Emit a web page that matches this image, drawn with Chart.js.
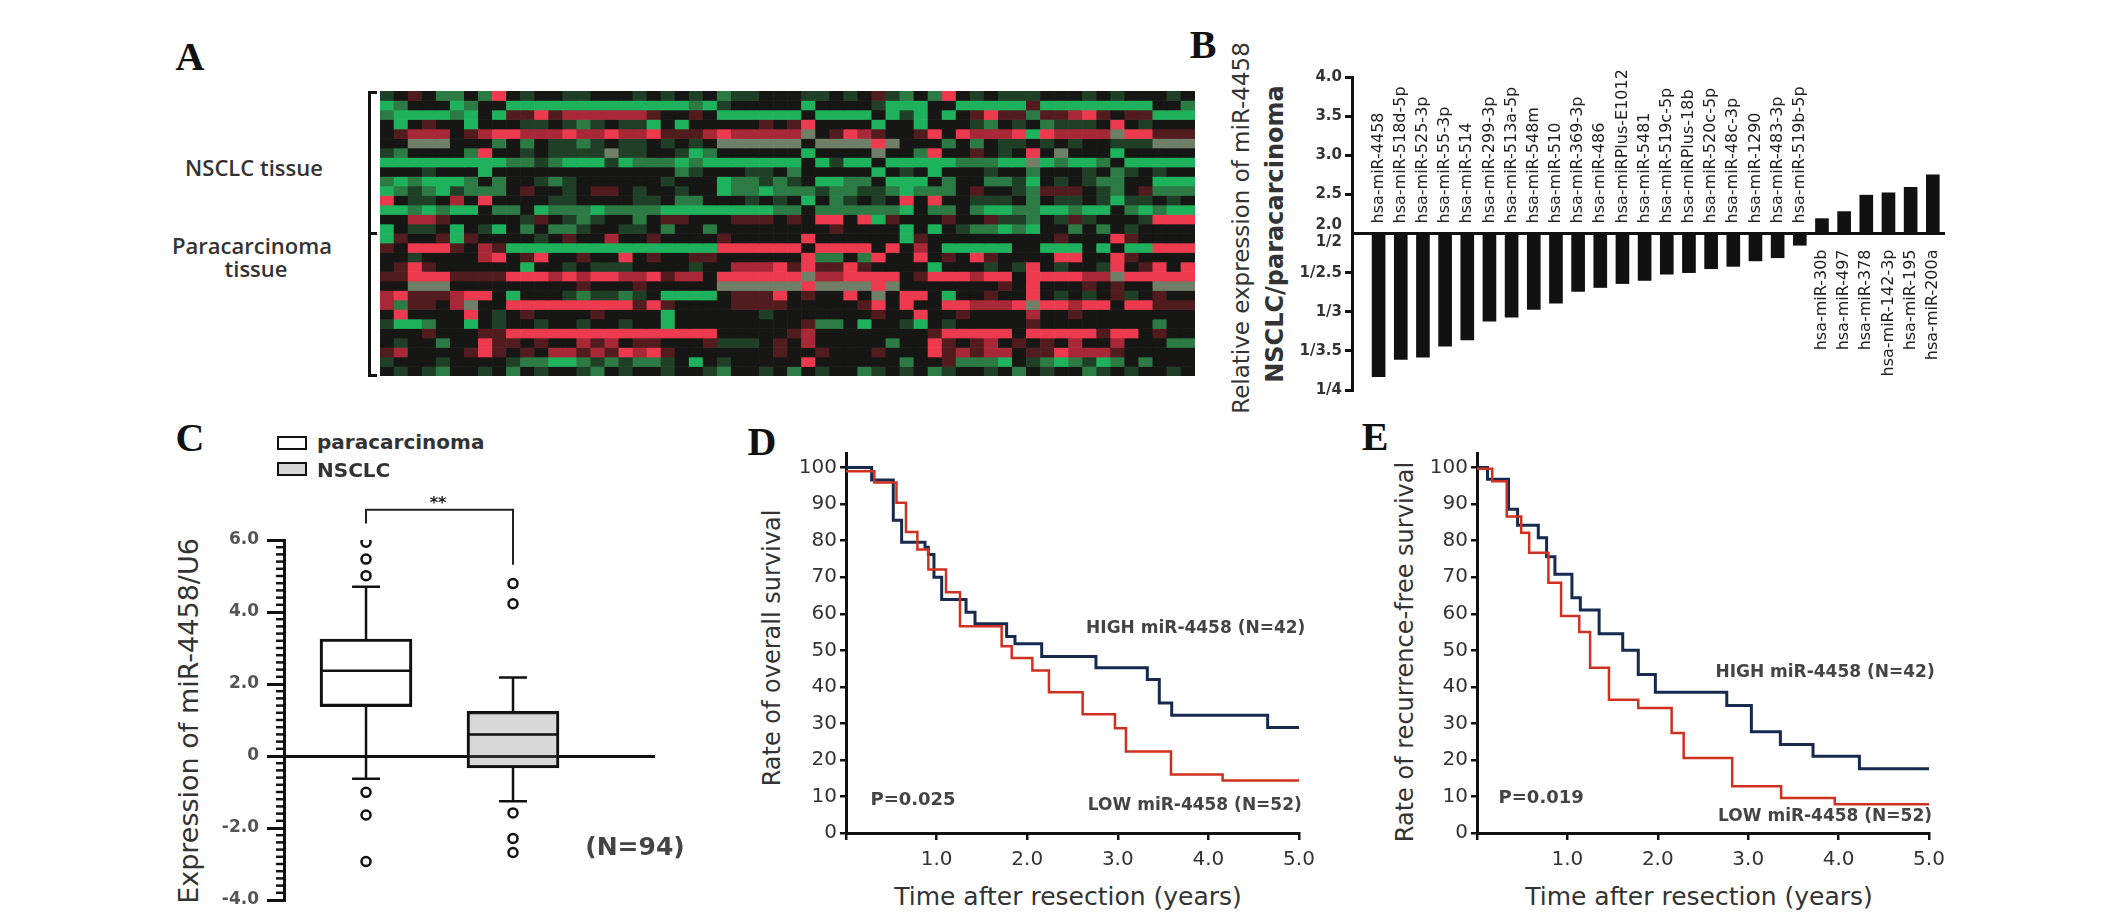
<!DOCTYPE html>
<html>
<head>
<meta charset="utf-8">
<script src="https://cdn.jsdelivr.net/npm/chart.js@4.4.1/dist/chart.umd.min.js"></script>
<style>
  html, body { margin: 0; padding: 0; background: #fff; }
  body { position: relative; width: 2126px; height: 921px; overflow: hidden; color: #333; }
  .t { position: absolute; white-space: nowrap; }
  .sw { position: absolute; box-sizing: border-box; border: 2px solid #111; }
  .br { position: absolute; background: #111; }
</style>
</head>
<body>
<script>
// heatmap rows (top to bottom), one letter per sample column
// G bright green, g green, d dark green, k black, m dark red, r red, R bright red, w grey
var heatRows = [
  'dkmkggkgRkdkkddkkkd' + 'kdkdkgddkkkddkdkmdg' + 'kgRkdkdddkkkdkdkkkd' + 'k',
  'GgkkkGgkkGGGGGGGGGG' + 'GGGgGdkkkkkGkkkkdGG' + 'GkkGGGGGmGGGGGGGGkk' + 'g',
  'gGGGGgGkGmmRmrrrrrr' + 'mkkmkGGGGGGkGGGGkGd' + 'GkGkmRmmgmmrRmkmmGG' + 'G',
  'kGkmkkGkkkddkdgdkdd' + 'GkGkkkkkmkmRkkkkGkk' + 'GkkkdgkdkgdddkRkdkk' + 'k',
  'kmrrrkmrRRrrrRrrRrr' + 'RmmmrRrrrrrwkmRrmkk' + 'mRkRrrrRGRrrrrwRRmm' + 'm',
  'kkwwwkkkgkgkddgdkdd' + 'kdkdkwwwwwwkwwwwRwk' + 'kkgkgkddkdkdkkdddww' + 'w',
  'dgkkkkgRkkdkddddwdd' + 'kkdGgkkkkkkGkkkkwkk' + 'gRkkmkdkRkwkkkGkkkk' + 'k',
  'GGGGGGGGGggdgGGGdGg' + 'ggGgGGGGGGGkGdGGkGG' + 'GGGgggGGwGgGGgkGGGG' + 'G',
  'kkkdkkkGkkkkkkkkkkk' + 'kkgdkkkddkgkkkkkGkd' + 'kGkkkdkkgkkkdkgdkdk' + 'k',
  'gGgGGGgkgkkdgdkkkkk' + 'kdkkkGggdgdkGGggkGG' + 'GkgkkggdGkdkdggkkGG' + 'G',
  'GgdgGdgggkmkkdkmmkd' + 'kkdkkGggGgggdggddgG' + 'gggkmkkdgmmmkdgkmgg' + 'g',
  'RkddkrkRkkkkddkkkkd' + 'dkggkkkdkdkGkgdkdkR' + 'kRkkdddkgkddkdGddkd' + 'k',
  'GGgGgGGkggkGgggGggg' + 'gGGGGGGGGggkggggggG' + 'kggkgGGggGGgGGkgGgG' + 'G',
  'kkrrmkkkkkdmkdgdkkg' + 'kmmkkkmmmkmkRRkRGmk' + 'kkmkkmddgkdmdkkkdRR' + 'R',
  'GkddkGkdGkgkggdkkdd' + 'kgkkgkkkkkkkkmkkkkG' + 'kGkdggGgGkkgkgkdkkk' + 'k',
  'GmkkmGmkkkkdkmkkrkk' + 'mkkkkmkkkkkRkkkkkkG' + 'mkkkkkkkkkmkkkRmkkk' + 'k',
  'mkRRRmkrmGGGGGGGGGG' + 'GGGGGRRRRRRkRRRRkRk' + 'rkGGGGGkkGGGkGkGGRR' + 'R',
  'kkdkkkkrRkmRkkmkkRk' + 'mkkmmkkkkkkRggkgRkk' + 'RkmkRmkkkkRRkkRmkkk' + 'k',
  'kmRmkkkkkkGkkdkdddk' + 'kkkdkkrrrRmRmmRmkkk' + 'kGkkkdkdRkdkkdRkmRk' + 'R',
  'mmRRRmmmmRRRrRrRRrr' + 'RmrrkRRRRRRwrrRRRRk' + 'mRRRrRRkRRRRrrwRRRR' + 'R',
  'kkwwwkkkkkkkkkmkkkm' + 'kkkkkwwwwwwRwwwwRwk' + 'kkkkkkmkRkkkmkmkkww' + 'w',
  'rRmmmrRRkGkkkdgddgd' + 'kGGGGkmmmRkmkkRkwkR' + 'RkGkkmkkRkdkdkmdkmk' + 'k',
  'rgmmkrwkkRRRRRRRRRm' + 'RmkkkkmmmmkkkkkmRkR' + 'kkRRrrrRwRRrRRkRRmm' + 'm',
  'kRkkkkRkdkmkkkkmkkk' + 'kGkkkkkkdkkkkkkkmkk' + 'Rkkmkkkkrkkmkkkkkkk' + 'k',
  'dGGgkkGkdkkdkkdkkdk' + 'kGkkkkkkkkkmggkGkkd' + 'Gkdkkkkkmkkkkkkkkgk' + 'k',
  'kkkmkkkmmRRRRRRRRRR' + 'RRRRRkkkkkmrkkkkkkk' + 'kmRRRRRkRRRRRmRRkmk' + 'k',
  'kdkkgkkRmmkmkkrmrkm' + 'mkkkmdddkmkrkkkkkgk' + 'kRmkmrkmkmkrkkrkkkg' + 'g',
  'mrkkkkmRmkmkrrmrmRr' + 'Rmkkkkkkkmkkmkkkmkk' + 'kRmrmrrkmmRrrrmkkkk' + 'k',
  'dkkkdkkkkdggGGgdgdg' + 'gdkGkdkkkkkRkkkkkkg' + 'kkmgggGkdgGgdGgkgkk' + 'k',
  'kdkdgkkdkgkdkkdgkdk' + 'kdkkdgkkdkgkdkkgdkd' + 'kgdkkdkgkdkkgdkdkkd' + 'k'
];
var heatColors = {
  G: '#1fb25c', g: '#2c7a44', d: '#1f4026', k: '#161614',
  m: '#521c1f', r: '#a82838', R: '#ee3a4f', w: '#6f7f68'
};

// panel B: fold change NSCLC / paracarcinoma
var bDownNames = ['hsa-miR-4458', 'hsa-miR-518d-5p', 'hsa-miR-525-3p', 'hsa-miR-55-3p', 'hsa-miR-514',
  'hsa-miR-299-3p', 'hsa-miR-513a-5p', 'hsa-miR-548m', 'hsa-miR-510', 'hsa-miR-369-3p', 'hsa-miR-486',
  'hsa-miRPlus-E1012', 'hsa-miR-5481', 'hsa-miR-519c-5p', 'hsa-miRPlus-18b', 'hsa-miR-520c-5p',
  'hsa-miR-48c-3p', 'hsa-miR-1290', 'hsa-miR-483-3p', 'hsa-miR-519b-5p'];
var bDownFold = [3.83, 3.61, 3.58, 3.44, 3.36, 3.12, 3.07, 2.97, 2.89, 2.74, 2.69, 2.64,
  2.60, 2.52, 2.50, 2.45, 2.42, 2.35, 2.31, 2.15]; // shown as 1/x
var bUpNames = ['hsa-miR-30b', 'hsa-miR-497', 'hsa-miR-378', 'hsa-miR-142-3p', 'hsa-miR-195', 'hsa-miR-200a'];
var bUpFold = [2.19, 2.28, 2.49, 2.52, 2.59, 2.75];

// panel C: box plot stats
var cGroups = ['paracarcinoma', 'NSCLC'];
var cQ1 = [1.37, -0.33];
var cMedian = [2.37, 0.60];
var cQ3 = [3.25, 1.24];
var cLow = [-0.63, -1.26];
var cHigh = [4.70, 2.18];
var cOutliers = [[5.94, 5.47, 5.01, -1.01, -1.64, -2.93], [4.79, 4.23, -1.58, -2.29, -2.68]];

// panel D: overall survival
var dHighT = [0, 0.283, 0.522, 0.614, 0.872, 0.909, 0.971, 1.056, 1.325, 1.424, 1.773, 1.865, 2.160, 2.759, 3.326, 3.458, 3.595, 4.654, 5.0];
var dHighS = [100, 96.6, 85.6, 79.6, 78.2, 76.2, 70.0, 63.9, 60.4, 57.3, 53.8, 51.8, 48.3, 45.2, 42.0, 35.6, 32.2, 28.9, 28.9];
var dLowT = [0, 0.313, 0.557, 0.662, 0.788, 0.909, 1.104, 1.258, 1.718, 1.829, 2.057, 2.240, 2.612, 2.969, 3.090, 3.587, 4.157, 5.0];
var dLowS = [99, 95.9, 90.4, 82.4, 77.6, 72.1, 65.9, 56.6, 51.1, 47.9, 44.5, 38.5, 32.5, 28.7, 22.3, 16.0, 14.4, 14.4];

// panel E: recurrence-free survival
var eHighT = [0, 0.116, 0.349, 0.449, 0.678, 0.770, 0.862, 1.050, 1.143, 1.351, 1.612, 1.784, 1.973, 2.763, 3.035, 3.356, 3.717, 4.230, 5.0];
var eHighS = [100, 96.8, 88.6, 84.2, 80.8, 75.6, 70.8, 64.4, 61.0, 54.5, 50.0, 43.4, 38.5, 34.9, 27.7, 24.2, 21.0, 17.6, 17.6];
var eLowT = [0, 0.168, 0.329, 0.489, 0.577, 0.790, 0.930, 1.131, 1.251, 1.460, 1.784, 2.153, 2.286, 2.823, 3.364, 3.958, 5.0];
var eLowS = [99.7, 96.3, 86.6, 82.2, 76.7, 68.5, 59.4, 55.0, 45.2, 36.5, 34.2, 27.4, 20.5, 12.8, 9.6, 7.9, 7.9];

Chart.defaults.font.family = "'DejaVu Sans', sans-serif";
Chart.defaults.color = '#333';
Chart.defaults.animation = false;
Chart.defaults.events = [];
Chart.defaults.plugins.legend.display = false;
Chart.defaults.plugins.tooltip.enabled = false;

function box(left, top, width, height) {
  var div = document.createElement('div');
  div.style.cssText = 'position:absolute;left:' + left + 'px;top:' + top + 'px;width:' + width + 'px;height:' + height + 'px';
  var cv = document.createElement('canvas');
  div.appendChild(cv);
  document.body.appendChild(div);
  return cv;
}

function text(str, x, y, font, opts) {
  opts = opts || {};
  var el = document.createElement('div');
  el.className = 't';
  el.textContent = str;
  el.style.font = font;
  el.style.lineHeight = '1';
  el.style.left = x + 'px';
  el.style.top = y + 'px';
  if (opts.color) el.style.color = opts.color;
  var tx = opts.align === 'left' ? '0' : (opts.align === 'right' ? '-100%' : '-50%');
  el.style.transform = 'translate(' + tx + ',-50%)' + (opts.rotate ? ' rotate(-90deg)' : '');
  document.body.appendChild(el);
}

function rect(cls, x, y, w, h, bg) {
  var el = document.createElement('div');
  el.className = cls;
  el.style.left = x + 'px'; el.style.top = y + 'px';
  el.style.width = w + 'px'; el.style.height = h + 'px';
  if (bg) el.style.background = bg;
  document.body.appendChild(el);
}

function fixSize(px) {
  return function (scale) {
    if (scale.isHorizontal()) { scale.height = px; } else { scale.width = px; }
    scale.paddingLeft = 0; scale.paddingRight = 0; scale.paddingTop = 0; scale.paddingBottom = 0;
  };
}

function zeroOnly(ctx) { return ctx.tick && ctx.tick.value === 0 ? '#111' : 'rgba(0,0,0,0)'; }

// text placed in data coordinates
var notesPlugin = {
  id: 'notes',
  afterDatasetsDraw: function (chart, args, opts) {
    var ctx = chart.ctx;
    (opts.items || []).forEach(function (n) {
      ctx.save();
      ctx.font = n.font;
      ctx.fillStyle = n.color || '#333';
      ctx.textAlign = 'center';
      ctx.textBaseline = 'middle';
      ctx.fillText(n.text, chart.scales.x.getPixelForValue(n.x), chart.scales.y.getPixelForValue(n.y));
      ctx.restore();
    });
  }
};

// ================= A: heatmap =================
var heatCols = heatRows[0].split('').map(function (c, i) { return 'S' + (i + 1); });
new Chart(box(380, 91, 815, 285), {
  type: 'bar',
  data: {
    labels: heatCols,
    datasets: heatRows.map(function (row, r) {
      var cells = row.split('');
      return {
        data: cells.map(function () { return [r, r + 1]; }),
        backgroundColor: cells.map(function (c) { return heatColors[c]; }),
        borderWidth: 0,
        grouped: false,
        barPercentage: 1,
        categoryPercentage: 1
      };
    })
  },
  options: {
    responsive: true,
    maintainAspectRatio: false,
    layout: { autoPadding: false, padding: 0 },
    scales: {
      x: { display: false },
      y: { display: false, min: 0, max: heatRows.length, reverse: true }
    }
  }
});

// bracket and row group labels
rect('br', 368, 91, 3, 286);
rect('br', 368, 91, 9, 3);
rect('br', 368, 232, 9, 3);
rect('br', 368, 374, 9, 3);
var sideFont = '600 22px "Open Sans"';
text('NSCLC tissue', 254, 167, sideFont);
text('Paracarcinoma', 252, 245, sideFont);
text('tissue', 256, 268, sideFont);

// ================= B: fold change bars =================
var bNames = bDownNames.concat(bUpNames);
var bPoints = bDownFold.map(function (d, i) { return { x: i, y: -(d - 2) }; })
  .concat(bUpFold.map(function (f, i) { return { x: bDownNames.length + i, y: f - 2 }; }));

var barNamesPlugin = {
  id: 'barNames',
  afterDatasetsDraw: function (chart, args, opts) {
    var ctx = chart.ctx, xs = chart.scales.x, ys = chart.scales.y;
    var y0 = ys.getPixelForValue(0);
    var pts = chart.data.datasets[0].data;
    ctx.save();
    ctx.font = opts.font;
    ctx.fillStyle = opts.color;
    ctx.textBaseline = 'middle';
    pts.forEach(function (p, i) {
      var x = xs.getPixelForValue(p.x);
      ctx.save();
      if (p.y < 0) {
        ctx.translate(x, y0 - opts.gapAbove);
        ctx.textAlign = 'left';
      } else {
        ctx.translate(x, y0 + opts.gapBelow);
        ctx.textAlign = 'right';
      }
      ctx.rotate(-Math.PI / 2);
      ctx.fillText(opts.names[i], 0, 0);
      ctx.restore();
    });
    ctx.restore();
  }
};

new Chart(box(1290, 60, 670, 345), {
  type: 'bar',
  data: {
    datasets: [{ data: bPoints, backgroundColor: '#111', borderWidth: 0, barThickness: 13 }]
  },
  options: {
    responsive: true,
    maintainAspectRatio: false,
    layout: { autoPadding: false, padding: { left: 0, top: 17, right: 15, bottom: 15 } },
    scales: {
      x: { type: 'linear', display: false, offset: false, min: -1.2, max: 25.55 },
      y: {
        min: -2, max: 2,
        afterFit: fixSize(62),
        border: { display: true, width: 3, color: '#111' },
        grid: {
          drawOnChartArea: true, color: zeroOnly, lineWidth: 3,
          tickLength: 7, tickWidth: 3,
          tickColor: function (ctx) { return ctx.tick && ctx.tick.value === 0 ? 'rgba(0,0,0,0)' : '#111'; }
        },
        ticks: {
          stepSize: 0.5, padding: 3, color: '#333',
          font: { size: 15, weight: 'bold', lineHeight: 1.1 },
          callback: function (v) {
            if (v === 0) return ['2.0', '1/2'];
            if (v > 0) return (v + 2).toFixed(1);
            var d = 2 - v;
            return '1/' + (d % 1 === 0 ? d : d.toFixed(1));
          }
        }
      }
    },
    plugins: {
      barNames: { names: bNames, font: "16px 'DejaVu Sans'", color: '#222', gapAbove: 10, gapBelow: 16 }
    }
  },
  plugins: [barNamesPlugin]
});

text('Relative expression of miR-4458', 1241, 228, '23px "DejaVu Sans"', { rotate: true });
text('NSCLC/paracarcinoma', 1275, 234, 'bold 24px "DejaVu Sans"', { rotate: true });

// ================= C: box plot =================
var cBoxHalf = 0.313, cCapHalf = 0.095;
var cSegments = [];
cGroups.forEach(function (g, i) {
  var x = i + 1;
  cSegments.push(
    { x: x - cBoxHalf, y: cMedian[i] }, { x: x + cBoxHalf, y: cMedian[i] }, { x: x, y: null },
    { x: x, y: cQ3[i] }, { x: x, y: cHigh[i] }, { x: x, y: null },
    { x: x - cCapHalf, y: cHigh[i] }, { x: x + cCapHalf, y: cHigh[i] }, { x: x, y: null },
    { x: x, y: cQ1[i] }, { x: x, y: cLow[i] }, { x: x, y: null },
    { x: x - cCapHalf, y: cLow[i] }, { x: x + cCapHalf, y: cLow[i] }, { x: x, y: null }
  );
});
var cPoints = [];
cOutliers.forEach(function (list, i) {
  list.forEach(function (v) { cPoints.push({ x: i + 1, y: v }); });
});

var minorTicksPlugin = {
  id: 'minorTicks',
  afterDraw: function (chart, args, opts) {
    var ys = chart.scales.y, ctx = chart.ctx, x0 = chart.chartArea.left;
    ctx.save();
    ctx.strokeStyle = '#111';
    ctx.lineWidth = opts.width;
    var n0 = Math.round(ys.min / opts.step), n1 = Math.round(ys.max / opts.step);
    for (var k = n0; k <= n1; k++) {
      if (k % opts.every === 0) continue;
      var y = ys.getPixelForValue(k * opts.step);
      ctx.beginPath();
      ctx.moveTo(x0 - opts.length, y);
      ctx.lineTo(x0, y);
      ctx.stroke();
    }
    ctx.restore();
  }
};

// canvas is wider than the plot so the (N=94) note is not cut
new Chart(box(210, 480, 520, 435), {
  type: 'bar',
  data: {
    datasets: [
      {
        type: 'bar', order: 3,
        data: cGroups.map(function (g, i) { return { x: i + 1, y: [cQ1[i], cQ3[i]] }; }),
        backgroundColor: ['rgba(255,255,255,0)', 'rgba(110,110,110,0.27)'],
        borderColor: '#111', borderWidth: 2.5, borderSkipped: false, barThickness: 92
      },
      { type: 'line', order: 2, data: cSegments, borderColor: '#111', borderWidth: 2.5, pointRadius: 0, spanGaps: false },
      {
        type: 'scatter', order: 1, data: cPoints, pointRadius: 4.5, pointBorderWidth: 2.5,
        borderColor: '#111', backgroundColor: '#fff'
      },
      {
        type: 'line', order: 0, clip: false, borderColor: '#222', borderWidth: 2, pointRadius: 0,
        data: [{ x: 1, y: 6.46 }, { x: 1, y: 6.84 }, { x: 2, y: 6.84 }, { x: 2, y: 5.31 }]
      }
    ]
  },
  options: {
    responsive: true,
    maintainAspectRatio: false,
    layout: { autoPadding: false, padding: { left: 0, top: 60, right: 75, bottom: 15 } },
    scales: {
      x: { type: 'linear', display: false, offset: false, min: 0.442, max: 2.966 },
      y: {
        min: -4, max: 6,
        afterFit: fixSize(74),
        border: { display: true, width: 3, color: '#111' },
        grid: { drawOnChartArea: true, color: zeroOnly, lineWidth: 3, tickColor: '#111', tickLength: 17, tickWidth: 3 },
        ticks: {
          stepSize: 2, padding: 8, color: '#555', font: { size: 17, weight: 'bold' },
          callback: function (v) { return v === 0 ? '0' : v.toFixed(1); }
        }
      }
    },
    plugins: {
      minorTicks: { step: 0.2, every: 10, length: 8, width: 2.5 },
      notes: {
        items: [
          { text: '**', x: 1.49, y: 7.0, font: "bold 16px 'DejaVu Sans'", color: '#222' },
          { text: '(N=94)', x: 2.83, y: -2.56, font: "bold 25px 'DejaVu Sans'", color: '#444' }
        ]
      }
    }
  },
  plugins: [minorTicksPlugin, notesPlugin]
});

rect('sw', 277, 436, 30, 14, '#fff');
rect('sw', 277, 462, 30, 14, '#d6d6d6');
text('paracarcinoma', 317, 442, 'bold 20px "DejaVu Sans"', { align: 'left' });
text('NSCLC', 317, 470, 'bold 20px "DejaVu Sans"', { align: 'left' });
text('Expression of miR-4458/U6', 188, 721, '27px "DejaVu Sans"', { rotate: true });

// ================= D / E: Kaplan-Meier =================
function kmChart(el, yWidth, highT, highS, lowT, lowS, notes) {
  function pts(t, s) { return t.map(function (v, i) { return { x: v, y: s[i] }; }); }
  return new Chart(el, {
    type: 'line',
    data: {
      datasets: [
        { label: 'LOW', data: pts(lowT, lowS), borderColor: '#d0301f', borderWidth: 2.5, stepped: 'before', pointRadius: 0 },
        { label: 'HIGH', data: pts(highT, highS), borderColor: '#152a4e', borderWidth: 3, stepped: 'before', pointRadius: 0 }
      ]
    },
    options: {
      responsive: true,
      maintainAspectRatio: false,
      layout: { autoPadding: false, padding: { left: 0, top: 13, right: 21, bottom: 0 } },
      scales: {
        x: {
          type: 'linear', min: 0, max: 5,
          afterFit: fixSize(37),
          border: { display: true, width: 3, color: '#111' },
          grid: { drawOnChartArea: false, color: '#111', lineWidth: 2.5, tickLength: 7 },
          ticks: {
            stepSize: 1, padding: 8, color: '#333', font: { size: 20 },
            callback: function (v) { return v === 0 ? '' : v.toFixed(1); }
          }
        },
        y: {
          min: 0, max: 104,
          afterFit: fixSize(yWidth),
          border: { display: true, width: 3, color: '#111' },
          grid: { drawOnChartArea: false, color: '#111', lineWidth: 2.5, tickLength: 6 },
          ticks: { stepSize: 10, includeBounds: false, padding: 3, color: '#333', font: { size: 20 } }
        }
      },
      plugins: { notes: { items: notes } }
    },
    plugins: [notesPlugin]
  });
}

var kmFont = "bold 17px 'DejaVu Sans'";
var kmColor = '#444';
kmChart(box(790, 440, 530, 430), 56, dHighT, dHighS, dLowT, dLowS, [
  { text: 'P=0.025', x: 0.74, y: 9.0, font: "bold 18px 'DejaVu Sans'", color: kmColor },
  { text: 'HIGH miR-4458 (N=42)', x: 3.86, y: 55.9, font: kmFont, color: kmColor },
  { text: 'LOW miR-4458 (N=52)', x: 3.85, y: 7.6, font: kmFont, color: kmColor }
]);
kmChart(box(1420, 440, 530, 430), 57, eHighT, eHighS, eLowT, eLowS, [
  { text: 'P=0.019', x: 0.71, y: 9.6, font: "bold 18px 'DejaVu Sans'", color: kmColor },
  { text: 'HIGH miR-4458 (N=42)', x: 3.85, y: 43.8, font: kmFont, color: kmColor },
  { text: 'LOW miR-4458 (N=52)', x: 3.85, y: 4.5, font: kmFont, color: kmColor }
]);

text('Rate of overall survival', 772, 648, '24px "DejaVu Sans"', { rotate: true });
text('Time after resection (years)', 1068, 896, '25px "DejaVu Sans"');
text('Rate of recurrence-free survival', 1405, 652, '24px "DejaVu Sans"', { rotate: true });
text('Time after resection (years)', 1699, 896, '25px "DejaVu Sans"');

// panel letters
var letterFont = 'bold 40px "Liberation Serif"';
text('A', 190, 57, letterFont, { color: '#111' });
text('B', 1203, 45, letterFont, { color: '#111' });
text('C', 190, 438, letterFont, { color: '#111' });
text('D', 762, 442, letterFont, { color: '#111' });
text('E', 1375, 437, letterFont, { color: '#111' });
</script>
</body>
</html>
